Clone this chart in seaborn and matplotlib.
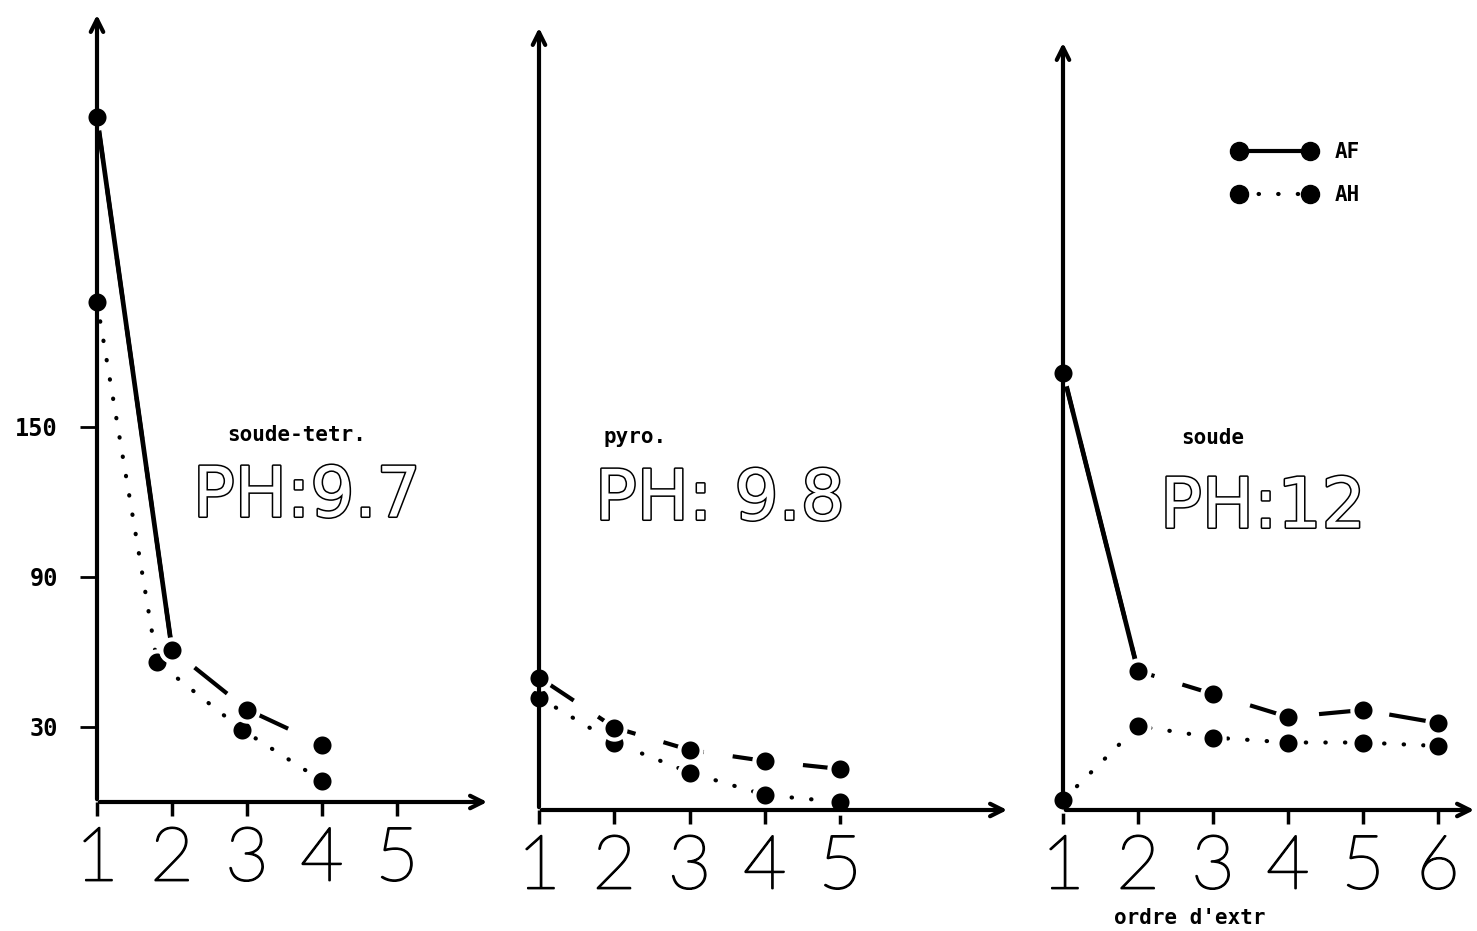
import matplotlib
matplotlib.use("Agg")
import matplotlib.pyplot as plt
import matplotlib.patheffects as pe
from matplotlib.lines import Line2D
import seaborn as sns

# --- data ---
tetr_x_af = [1, 2, 3, 4]
tetr_af = [274, 61, 37, 23]
tetr_x_ah = [1, 1.8, 2.93, 4]
tetr_ah = [200, 56, 29, 8.5]

pyro_x = [1, 2, 3, 4, 5]
pyro_af = [53, 33, 24, 19.6, 16.4]
pyro_ah = [45, 27, 15, 6, 3.2]

soude_x = [1, 2, 3, 4, 5, 6]
soude_af = [175, 55.6, 46.4, 37.2, 40, 34.8]
soude_ah = [4, 33.6, 29, 27, 27, 25.6]

x_ticks = [[1, 2, 3, 4, 5], [1, 2, 3, 4, 5], [1, 2, 3, 4, 5, 6]]
y_ticks = [30, 90, 150]
names = ["soude-tetr.", "pyro.", "soude"]
ph_labels = ["PH:9.7", "PH: 9.8", "PH:12"]

sns.set_style("white")
plt.rcParams["font.family"] = ["DejaVu Sans"]
plt.rcParams["text.color"] = "black"
plt.rcParams["xtick.color"] = "black"
plt.rcParams["ytick.color"] = "black"

W, H = 1477, 931
fig = plt.figure(figsize=(W / 100, H / 100), dpi=100)

def px_axes(x0, x1, yt, yb):
    return [x0 / W, 1 - yb / H, (x1 - x0) / W, (yb - yt) / H]

# layout in pixels: x0, x1, y top, y bottom, px per x unit
layout = [(97, 490, 12, 802, 75.0), (539, 1010, 25, 810, 75.3), (1063, 1477, 40, 810, 75.0)]
series = [
    (tetr_x_af, tetr_af, tetr_x_ah, tetr_ah, True),
    (pyro_x, pyro_af, pyro_x, pyro_ah, False),
    (soude_x, soude_af, soude_x, soude_ah, True),
]

mono = dict(family="DejaVu Sans Mono", fontweight="bold", color="black")
dot = dict(marker="o", markersize=16, markerfacecolor="black",
           markeredgecolor="white", markeredgewidth=3, clip_on=False)
dashed = (0, (10, 7))
dotted = (0, (0.1, 4.6))

axes = []
for i, (x0, x1, yt, yb, ppu) in enumerate(layout):
    ax = fig.add_axes(px_axes(x0, x1, yt, yb))
    ax.patch.set_alpha(0)
    xa, ya, xh, yh, solid_first = series[i]

    sns.lineplot(x=xh, y=yh, ax=ax, color="black", lw=3, linestyle=dotted,
                 dash_capstyle="round", **dot)
    sns.lineplot(x=xa, y=ya, ax=ax, color="black", lw=3, linestyle=dashed, **dot)
    if solid_first:
        sns.lineplot(x=xa[:2], y=ya[:2], ax=ax, color="black", lw=3.4, **dot)

    ax.set_xlim(1, 1 + (x1 - x0) / ppu)
    ax.set_ylim(0, (yb - yt) / 2.5)
    for s in ax.spines.values():
        s.set_visible(False)

    # axis arrows
    arr = dict(arrowstyle="->,head_length=0.9,head_width=0.45", lw=3, color="black")
    ax.annotate("", xy=(0, 1), xytext=(0, 0), xycoords="axes fraction", arrowprops=arr)
    ax.annotate("", xy=(1, 0), xytext=(0, 0), xycoords="axes fraction", arrowprops=arr)

    ax.set_xticks(x_ticks[i])
    ax.set_xticklabels([str(t) for t in x_ticks[i]], fontsize=54, color="black",
                       family=["Lato", "DejaVu Sans"], fontweight="light")
    for lab in ax.get_xticklabels():
        lab.set_path_effects([pe.withStroke(linewidth=1.3, foreground="black")])
    ax.tick_params(axis="x", direction="out", length=10, width=2.5, pad=8, bottom=True)
    if i == 0:
        ax.set_yticks(y_ticks)
        ax.set_yticklabels([str(t) for t in y_ticks], fontsize=17, **mono)
        ax.tick_params(axis="y", direction="out", length=12, width=2, pad=16, left=True)
    else:
        ax.set_yticks([])
    ax.set_xlabel("")
    ax.set_ylabel("")
    axes.append(ax)

# panel annotations
name_pos = [(297, 435), (635, 437), (1213, 438)]
ph_pos = [(307, 497), (720, 500), (1263, 508)]
for i in range(3):
    fig.text(name_pos[i][0] / W, 1 - name_pos[i][1] / H, names[i], fontsize=15,
             ha="center", va="center", **mono)
    fig.text(ph_pos[i][0] / W, 1 - ph_pos[i][1] / H, ph_labels[i], fontsize=50,
             ha="center", va="center", color="white",
             family=["Liberation Sans Narrow", "DejaVu Sans"],
             path_effects=[pe.Stroke(linewidth=2.2, foreground="black"), pe.Normal()])

fig.text(1190 / W, 1 - 918 / H, "ordre d'extr", fontsize=15, ha="center", va="center", **mono)

# legend
handles = [
    Line2D([], [], color="black", lw=3, marker="o", markersize=13),
    Line2D([], [], color="black", lw=3, linestyle=dotted, dash_capstyle="round",
           marker="o", markersize=13),
]
axes[2].legend(handles, ["AF", "AH"], numpoints=2, frameon=False, loc="upper left",
               bbox_to_anchor=(1222 / W, 1 - 132 / H), bbox_transform=fig.transFigure,
               handlelength=4.0, handletextpad=0.9, labelspacing=1.1, borderpad=0,
               prop=dict(family="DejaVu Sans Mono", weight="bold", size=15))

fig.savefig("out.png", dpi=100)
